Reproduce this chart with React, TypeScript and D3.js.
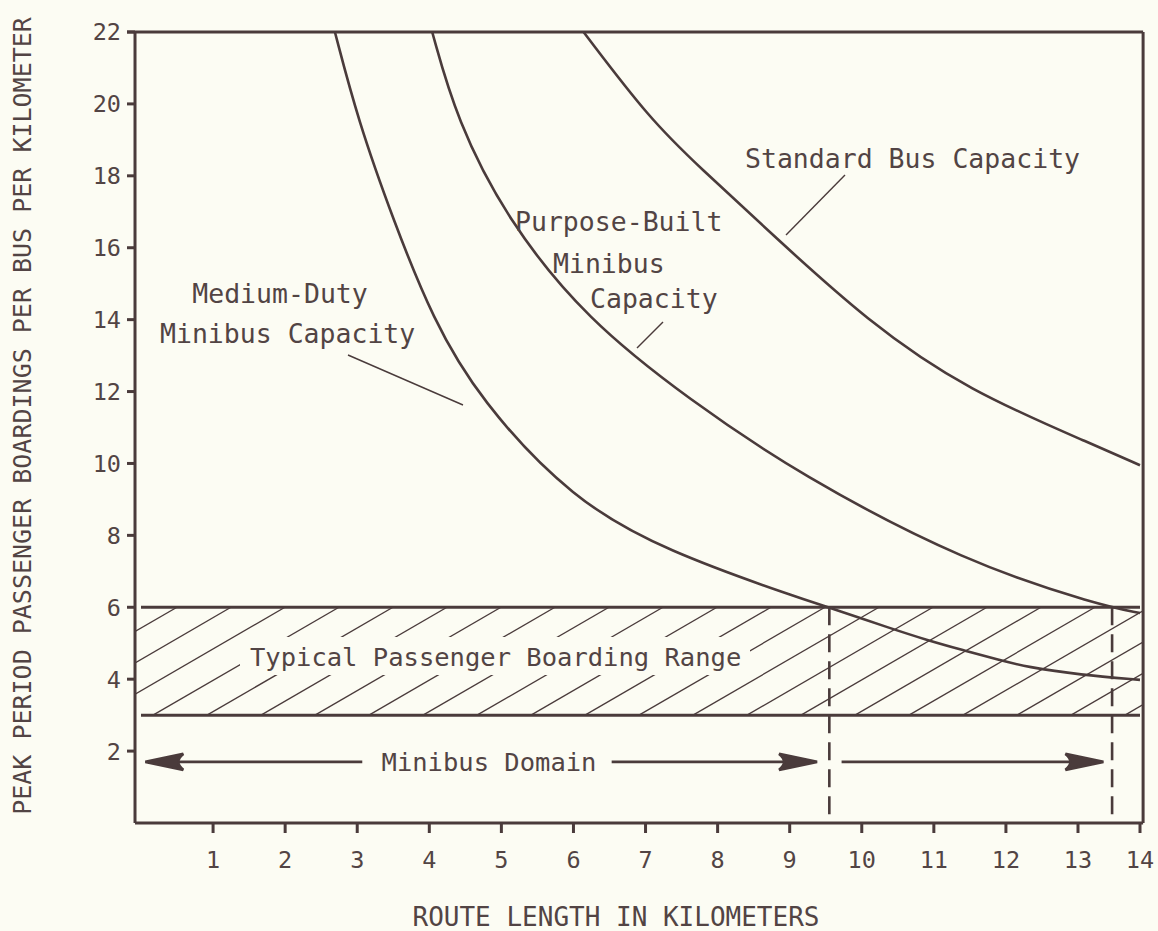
import React from 'react'
import * as d3 from 'd3'

// values
const xTicks = [1, 2, 3, 4, 5, 6, 7, 8, 9, 10, 11, 12, 13, 14]
const yTicks = [2, 4, 6, 8, 10, 12, 14, 16, 18, 20, 22]

const mediumDuty: [number, number][] = [
  [2.69, 22], [3.01, 19.55], [3.5, 16.77], [4.05, 14], [4.7, 11.77], [5.99, 8.98],
  [7.3, 7.55], [9.14, 6.25], [9.54, 6.0], [10.39, 5.42], [10.9, 5.09],
  [11.4, 4.81], [11.91, 4.53], [12.29, 4.34], [13.03, 4.12], [14, 3.98]
]
const purposeBuilt: [number, number][] = [
  [4.04, 22], [4.38, 19.55], [5.08, 16.77], [6.19, 13.99], [7.61, 11.77],
  [9.14, 9.68], [11.46, 7.23], [13.35, 6.06], [14, 5.84]
]
const standardBus: [number, number][] = [
  [6.14, 22], [7.07, 19.55], [7.75, 18.24], [8.78, 16.33], [10.07, 13.97],
  [11.46, 12.03], [13.35, 10.45], [14, 9.95]
]

const boardingRange = [3, 6]
const domainLimits = [9.55, 13.55]
const arrowLevel = 1.7
// [tail, tip] of each "Minibus Domain" arrow, in km
const domainArrows = [[3.07, 0.06], [6.53, 9.38], [9.72, 13.41]]

const W = 1158
const H = 931
const ink = '#4a3b3b'
const textInk = '#524444'
const paper = '#fcfcf3'
const mono = '"DejaVu Sans Mono", "Liberation Mono", monospace'

// the hand-drawn axis is a little compressed in its last kilometre
const x = d3.scaleLinear().domain([0, 13, 14]).range([141, 1078, 1140])
const y = d3.scaleLinear().domain([0, 22]).range([823, 32])

const line = d3.line<[number, number]>()
  .x(d => x(d[0]))
  .y(d => y(d[1]))
  .curve(d3.curveBasis)

function arrowHead(tipX: number, tipY: number, dir: number) {
  const len = 38
  const half = 8
  const bx = tipX - dir * len
  return `M${tipX},${tipY} L${bx},${tipY - half} Q${bx + dir * 10},${tipY} ${bx},${tipY + half} Z`
}

export default function App() {
  const left = x(-0.083)
  const right = x(14.05)
  const top = y(22)
  const bottom = y(0)
  const bandTop = y(boardingRange[1])
  const bandBot = y(boardingRange[0])
  const bandH = bandBot - bandTop
  const hatchRise = bandH / 0.58
  const hatch = d3.range(-6, 22).map(k => 153 + k * 54)
  const ay = y(arrowLevel)

  return (
    <svg width={W} height={H} style={{ position: 'absolute', left: 0, top: 0, background: paper }}
      fontFamily={mono}>
      <rect width={W} height={H} fill={paper} />
      <defs>
        <clipPath id="band">
          <rect x={left} y={bandTop} width={right - left} height={bandH} />
        </clipPath>
      </defs>

      {/* hatched boarding band */}
      <g clipPath="url(#band)" stroke={ink} strokeWidth={1.3}>
        {hatch.map((hx, i) => (
          <line key={i} x1={hx} y1={bandBot} x2={hx + hatchRise} y2={bandTop} />
        ))}
      </g>
      <rect x={240} y={637} width={510} height={38} fill={paper} />
      <text x={250} y={666} fontSize={25.5} fill={textInk}>Typical Passenger Boarding Range</text>
      <line x1={x(0)} x2={x(14)} y1={bandTop} y2={bandTop} stroke={ink} strokeWidth={3} />
      <line x1={x(0)} x2={x(14)} y1={bandBot} y2={bandBot} stroke={ink} strokeWidth={3} />

      {/* frame */}
      <g stroke={ink} strokeWidth={3} fill="none">
        <line x1={left - 8} x2={right} y1={top} y2={top} />
        <line x1={left} x2={left} y1={top} y2={bottom} />
        <line x1={right} x2={right} y1={top} y2={bottom} />
        <line x1={left} x2={right} y1={bottom} y2={bottom} />
      </g>

      {/* ticks */}
      <g stroke={ink} strokeWidth={3}>
        {xTicks.map(t => (
          <line key={t} x1={x(t)} x2={x(t)} y1={bottom} y2={bottom + 10} />
        ))}
        {yTicks.map(t => (
          <line key={t} x1={left - 8} x2={left} y1={y(t)} y2={y(t)} />
        ))}
      </g>
      <g fill={textInk} fontSize={23.5}>
        {xTicks.map(t => (
          <text key={t} x={x(t)} y={868} textAnchor="middle">{t}</text>
        ))}
        {yTicks.map(t => (
          <text key={t} x={121} y={y(t)} dy="0.36em" textAnchor="end">{t}</text>
        ))}
      </g>

      {/* capacity curves */}
      <g fill="none" stroke={ink} strokeWidth={2.6}>
        <path d={line(mediumDuty) ?? ''} />
        <path d={line(purposeBuilt) ?? ''} />
        <path d={line(standardBus) ?? ''} />
      </g>

      {/* domain limits */}
      <g stroke={ink} strokeWidth={2.6} strokeDasharray="18 9">
        {domainLimits.map(d => (
          <line key={d} x1={x(d)} x2={x(d)} y1={bandTop} y2={817} />
        ))}
      </g>

      {/* minibus domain arrows */}
      <g stroke={ink} strokeWidth={2.6} fill={ink}>
        {domainArrows.map(([tail, tip], i) => {
          const dir = tip > tail ? 1 : -1
          return (
            <g key={i}>
              <line x1={x(tail)} x2={x(tip) - dir * 30} y1={ay} y2={ay} />
              <path d={arrowHead(x(tip), ay, dir)} />
            </g>
          )
        })}
      </g>
      <text x={489} y={771} textAnchor="middle" fontSize={25.5} fill={textInk}>Minibus Domain</text>

      {/* curve labels */}
      <g fill={textInk} fontSize={26.5}>
        <text x={280} y={303} textAnchor="middle">Medium-Duty</text>
        <text x={160} y={343}>Minibus Capacity</text>
        <text x={515} y={231}>Purpose-Built</text>
        <text x={553} y={273}>Minibus</text>
        <text x={590} y={308}>Capacity</text>
        <text x={745} y={168}>Standard Bus Capacity</text>
      </g>
      <g stroke={ink} strokeWidth={1.4}>
        <line x1={348} y1={355} x2={463} y2={405} />
        <line x1={663} y1={322} x2={637} y2={348} />
        <line x1={845} y1={175} x2={786} y2={235} />
      </g>

      {/* axis titles */}
      <text x={616} y={926} textAnchor="middle" fontSize={26} fill={textInk}>ROUTE LENGTH IN KILOMETERS</text>
      <text transform="translate(31,416) rotate(-90)" textAnchor="middle" fontSize={25} fill={textInk}>
        PEAK PERIOD PASSENGER BOARDINGS PER BUS PER KILOMETER
      </text>
    </svg>
  )
}
